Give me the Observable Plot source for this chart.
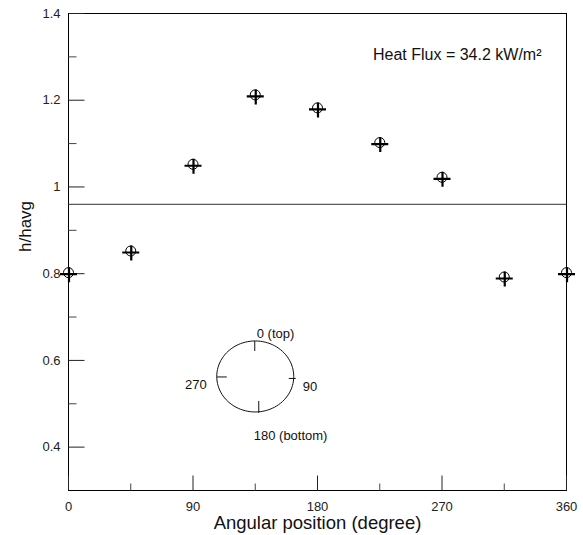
<!DOCTYPE html>
<html>
<head>
<meta charset="utf-8">
<script src="https://cdn.jsdelivr.net/npm/d3@7"></script>
<script src="https://cdn.jsdelivr.net/npm/@observablehq/plot@0.6"></script>
<style>
  html, body { margin: 0; padding: 0; background: #fff; }
</style>
</head>
<body>
<div id="chart"></div>
<script>
// ---- data ----
const angles = [0, 45, 90, 135, 180, 225, 270, 315, 360];
const hRatio = [0.80, 0.85, 1.05, 1.21, 1.18, 1.10, 1.02, 0.79, 0.80];
const refLevel = 0.96;
const xMajor = [0, 90, 180, 270, 360];
const xMinor = [45, 135, 225, 315];
const yMajor = [0.4, 0.6, 0.8, 1, 1.2, 1.4];
const yMinor = [0.5, 0.7, 0.9, 1.1, 1.3];
const annotation = "Heat Flux = 34.2 kW/m²";
const insetCenter = {angle: 135, h: 0.563};
const insetLabels = ["0 (top)", "90", "180 (bottom)", "270"];

const points = angles.map((a, i) => ({angle: a, h: hRatio[i]}));

// ---- symbols ----
const crossSymbol = {draw(ctx) { ctx.moveTo(-8.5, 0.5); ctx.lineTo(8.5, 0.5); ctx.moveTo(0.5, -6.5); ctx.lineTo(0.5, 8.5); }};
const circleSymbol = {draw(ctx) { ctx.moveTo(5, -1); ctx.arc(0, -1, 5, 0, 2 * Math.PI); }};
const tickH = len => ({draw(ctx) { ctx.moveTo(0, 0); ctx.lineTo(len, 0); }});
const tickV = len => ({draw(ctx) { ctx.moveTo(0, 0); ctx.lineTo(0, -len); }});
const insetSymbol = {draw(ctx) {
  const rx = 38.5, ry = 35.5;
  ctx.moveTo(rx, 0);
  for (let k = 1; k <= 96; ++k) {
    const t = k / 96 * 2 * Math.PI;
    ctx.lineTo(rx * Math.cos(t), ry * Math.sin(t));
  }
  ctx.moveTo(-0.5, -35.5); ctx.lineTo(-0.5, -25.5);
  ctx.moveTo(3.5, 24.5); ctx.lineTo(3.5, 36.5);
  ctx.moveTo(-38.5, 0.5); ctx.lineTo(-28.5, 0.5);
  ctx.moveTo(33.5, 2); ctx.lineTo(40.5, 2);
}};
const insetOffsets = [
  {dx: 1.5, dy: -43, anchor: "start"},
  {dx: 47.5, dy: 10, anchor: "start"},
  {dx: -1.5, dy: 59, anchor: "start"},
  {dx: -48.5, dy: 8, anchor: "end"}
];

const font = "'Liberation Sans', Arial, Helvetica, sans-serif";

const chart = Plot.plot({
  width: 583,
  height: 535,
  marginLeft: 68,
  marginRight: 17,
  marginTop: 13,
  marginBottom: 45,
  style: {fontFamily: font, fontSize: "13px", color: "#000", background: "#fff"},
  x: {domain: [0, 360], axis: null},
  y: {domain: [0.3, 1.4], axis: null},
  marks: [
    Plot.frame({stroke: "#000", strokeWidth: 1}),
    Plot.ruleY([refLevel], {stroke: "#333", strokeWidth: 1}),
    // inward ticks
    Plot.dot(yMajor, {y: d => d, frameAnchor: "left", symbol: tickH(16), r: 5, fill: "none", stroke: "#222", strokeWidth: 1}),
    Plot.dot(yMinor, {y: d => d, frameAnchor: "left", symbol: tickH(8), r: 5, fill: "none", stroke: "#444", strokeWidth: 1}),
    Plot.dot(xMajor, {x: d => d, frameAnchor: "bottom", symbol: tickV(15), r: 5, fill: "none", stroke: "#222", strokeWidth: 1}),
    Plot.dot(xMinor, {x: d => d, frameAnchor: "bottom", symbol: tickV(7), r: 5, fill: "none", stroke: "#444", strokeWidth: 1}),
    // tick labels
    Plot.axisY(yMajor, {tickSize: 0, tickPadding: 8, tickFormat: d => String(d), fontSize: 13, fill: "#222", label: null}),
    Plot.axisX(xMajor, {tickSize: 0, tickPadding: 11, tickFormat: d => String(d), fontSize: 13, fill: "#222", label: null}),
    // axis titles
    Plot.text(["Angular position (degree)"], {frameAnchor: "bottom", x: 180, dy: 33, fontSize: 18.5, fill: "#111", lineAnchor: "middle"}),
    Plot.text(["h/havg"], {frameAnchor: "left", dx: -43, rotate: -90, fontSize: 17, fill: "#111", lineAnchor: "middle"}),
    // annotation
    Plot.text([annotation], {frameAnchor: "top-right", dx: -25, dy: 41, textAnchor: "end", lineAnchor: "middle", fontSize: 16, fill: "#111"}),
    // inset diagram
    Plot.dot([insetCenter], {x: "angle", y: "h", symbol: insetSymbol, r: 5, fill: "none", stroke: "#111", strokeWidth: 1}),
    ...insetLabels.map((lab, i) => Plot.text([insetCenter], {
      x: "angle", y: "h", text: () => lab,
      dx: insetOffsets[i].dx, dy: insetOffsets[i].dy,
      textAnchor: insetOffsets[i].anchor, lineAnchor: "middle", fontSize: 13, fill: "#111"
    })),
    // data markers
    Plot.dot(points, {x: "angle", y: "h", symbol: circleSymbol, r: 5, fill: "none", stroke: "#000", strokeWidth: 1}),
    Plot.dot(points, {x: "angle", y: "h", symbol: crossSymbol, r: 5, fill: "none", stroke: "#000", strokeWidth: 2.2})
  ]
});
document.getElementById("chart").appendChild(chart);
</script>
</body>
</html>
